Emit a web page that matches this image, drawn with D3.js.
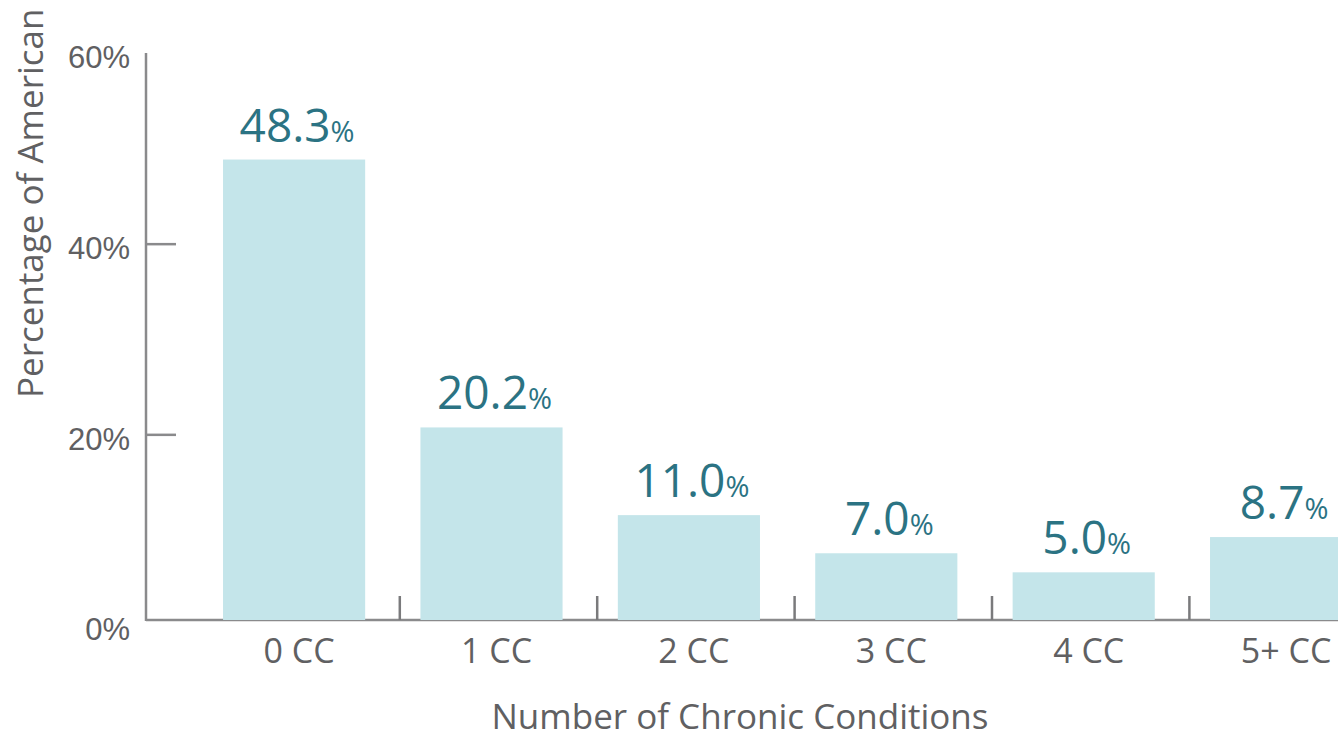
<!DOCTYPE html>
<html>
<head>
<meta charset="utf-8">
<script src="https://cdn.jsdelivr.net/npm/d3@7"></script>
<style>
  body { margin: 0; background: #fff; overflow: hidden; }
  svg { display: block; font-family: "Open Sans", sans-serif; }
</style>
</head>
<body>
<div id="chart"></div>
<script>
  const categories = ["0 CC", "1 CC", "2 CC", "3 CC", "4 CC", "5+ CC"];
  const values = [48.3, 20.2, 11.0, 7.0, 5.0, 8.7];
  const yTicks = [0, 20, 40, 60];

  const width = 1338;
  const height = 739;
  const baseY = 620;
  const topY = 48;

  const svg = d3.select("#chart")
    .append("svg")
    .attr("width", width)
    .attr("height", height);

  const xScale = d3.scaleBand()
    .domain(categories)
    .range([195.4, 1379.8])
    .paddingInner(0.28)
    .paddingOuter(0.14);

  const yScale = d3.scaleLinear()
    .domain([0, 60])
    .range([baseY, topY]);

  // x axis line under bars
  svg.append("line")
    .attr("x1", 146).attr("x2", width)
    .attr("y1", baseY).attr("y2", baseY)
    .attr("stroke", "#8a8a8c")
    .attr("stroke-width", 2.5);

  // bars
  svg.append("g")
    .selectAll("rect")
    .data(values)
    .join("rect")
    .attr("x", (d, i) => xScale(categories[i]))
    .attr("y", d => yScale(d))
    .attr("width", xScale.bandwidth())
    .attr("height", d => baseY - yScale(d))
    .attr("fill", "#c4e5ea");

  // y axis (sits a few px lower than the bars in the original)
  const yAxis = d3.axisRight(yScale)
    .tickValues(yTicks)
    .tickSize(30)
    .tickFormat(d => d + "%");
  const yAxisGroup = svg.append("g")
    .attr("transform", "translate(146,5)")
    .call(yAxis);
  yAxisGroup.select(".domain").remove();
  yAxisGroup.selectAll(".tick line")
    .attr("stroke", "#8a8a8c")
    .attr("stroke-width", 2.5)
    .attr("display", d => (d === 0 || d === 60) ? "none" : null);
  yAxisGroup.selectAll(".tick text")
    .attr("x", -16)
    .attr("dy", "0.48em")
    .attr("text-anchor", "end")
    .attr("fill", "#606062")
    .style("font-size", "31px");

  svg.append("line")
    .attr("x1", 146).attr("x2", 146)
    .attr("y1", yScale(60) + 5).attr("y2", baseY + 1)
    .attr("stroke", "#8a8a8c")
    .attr("stroke-width", 2.5);

  // separators between categories
  const step = xScale.step();
  svg.append("g")
    .selectAll("line")
    .data(categories.slice(1))
    .join("line")
    .attr("x1", d => xScale(d) - (step - xScale.bandwidth()) / 2 + 7)
    .attr("x2", d => xScale(d) - (step - xScale.bandwidth()) / 2 + 7)
    .attr("y1", baseY)
    .attr("y2", baseY - 24)
    .attr("stroke", "#7a7a7c")
    .attr("stroke-width", 2.5);

  // category labels
  svg.append("g")
    .selectAll("text")
    .data(categories)
    .join("text")
    .attr("x", d => xScale(d) + xScale.bandwidth() / 2 + 5)
    .attr("y", 663)
    .attr("text-anchor", "middle")
    .attr("fill", "#606062")
    .style("font-size", "34px")
    .text(d => d);

  // value labels
  const valueLabels = svg.append("g")
    .selectAll("text")
    .data(values)
    .join("text")
    .attr("x", (d, i) => xScale(categories[i]) + xScale.bandwidth() / 2 + 3)
    .attr("y", d => yScale(d) - 18)
    .attr("text-anchor", "middle")
    .attr("fill", "#2b7383");
  valueLabels.append("tspan")
    .style("font-size", "46px")
    .text(d => d3.format(".1f")(d));
  valueLabels.append("tspan")
    .style("font-size", "29px")
    .text("%");

  // axis titles
  svg.append("text")
    .attr("x", 740)
    .attr("y", 729)
    .attr("text-anchor", "middle")
    .attr("fill", "#606062")
    .style("font-size", "35px")
    .text("Number of Chronic Conditions");

  svg.append("text")
    .attr("transform", "translate(43,398) rotate(-90)")
    .attr("text-anchor", "start")
    .attr("fill", "#606062")
    .style("font-size", "35px")
    .text("Percentage of American");
</script>
</body>
</html>
